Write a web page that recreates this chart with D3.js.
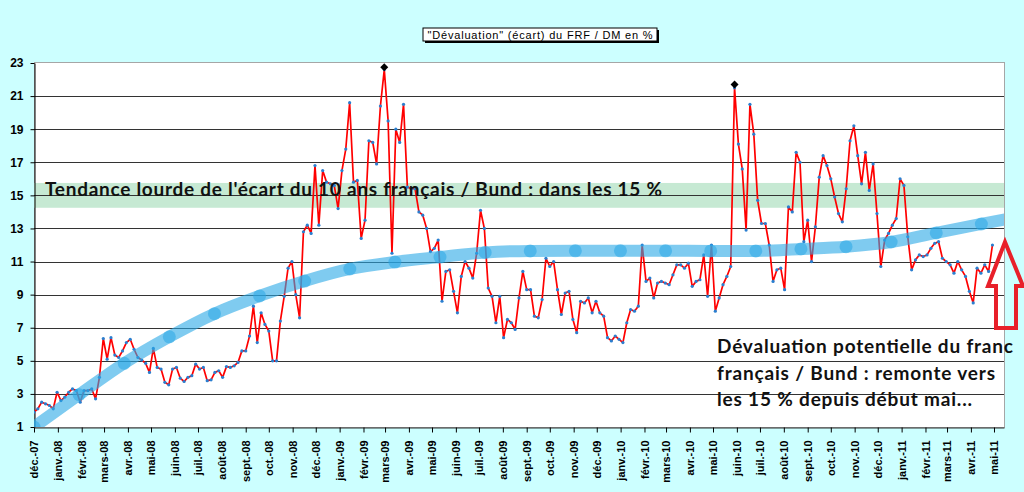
<!DOCTYPE html>
<html>
<head>
<meta charset="utf-8">
<script src="https://cdn.jsdelivr.net/npm/d3@7"></script>
<style>
  html, body { margin: 0; padding: 0; background: #ccffff; }
  svg { display: block; }
  .tick-label { font-family: "Liberation Sans", Arial, sans-serif; font-weight: bold; font-size: 11px; fill: #000; }
  .note { font-family: Lato, "Open Sans", sans-serif; font-weight: bold; font-size: 19px; fill: #111; }
</style>
</head>
<body>
<svg id="chart" width="1024" height="492"></svg>
<script>
// --- data ---
var seriesStart = "2007-12-01";   // one value every 5 days from here
var seriesStepDays = 5;
var seriesValues = [
  1.9, 2.1, 2.5, 2.4, 2.3, 2.1, 3.1, 2.6, 2.8, 3.1,
  3.3, 3.2, 2.5, 3.2, 3.2, 3.3, 2.7, 4.0, 6.35, 5.1,
  6.4, 5.35, 5.2, 5.6, 6.1, 6.3, 5.7, 5.2, 5.05, 4.85,
  4.3, 5.75, 4.6, 4.5, 3.7, 3.55, 4.5, 4.6, 3.95, 3.75,
  4.0, 4.1, 4.8, 4.5, 4.6, 3.8, 3.85, 4.3, 4.4, 4.0,
  4.65, 4.6, 4.7, 4.9, 5.6, 5.6, 6.5, 8.3, 6.1, 7.9,
  7.2, 6.8, 5.0, 5.0, 7.4, 8.9, 10.6, 11.0, 9.0, 7.6,
  12.8, 13.2, 12.7, 16.8, 13.2, 16.5, 15.8, 15.7, 15.6, 14.2,
  16.5, 17.8, 20.6, 15.8, 15.9, 12.4, 13.5, 18.3, 18.2, 16.9,
  20.4, 22.6, 19.5, 11.5, 19.0, 18.2, 20.5, 15.5, 15.4, 15.4,
  14.0, 13.8, 13.0, 11.6, 11.8, 12.3, 8.6, 10.4, 10.5, 9.2,
  7.9, 10.1, 11.0, 10.6, 10.0, 11.5, 14.1, 13.0, 9.4, 8.9,
  7.3, 8.9, 6.4, 7.5, 7.3, 6.9, 8.8, 10.4, 9.3, 9.3,
  7.7, 7.6, 8.7, 11.2, 10.7, 11.0, 9.3, 7.8, 9.1, 9.2,
  7.5, 6.7, 8.6, 8.5, 8.8, 7.9, 8.6, 7.9, 7.7, 6.4,
  6.2, 6.5, 6.3, 6.1, 7.3, 8.1, 8.0, 8.3, 12.0, 9.8,
  10.0, 8.8, 9.7, 9.8, 9.7, 9.6, 10.2, 10.8, 10.8, 10.6,
  10.9, 9.5, 9.8, 9.9, 11.4, 8.9, 12.0, 8.0, 8.8, 9.6,
  10.1, 10.7, 21.5, 18.1, 16.6, 12.9, 20.5, 18.7, 14.7, 13.3,
  13.3, 12.0, 9.8, 10.5, 10.6, 9.3, 14.3, 14.0, 17.6, 17.0,
  12.2, 13.5, 11.0, 13.1, 16.1, 17.4, 16.8, 16.0, 14.9, 13.9,
  13.4, 15.4, 18.3, 19.2, 17.4, 15.7, 17.6, 15.3, 16.9, 13.9,
  10.7, 12.3, 12.7, 13.2, 13.6, 16.0, 15.6, 12.5, 10.5, 11.1,
  11.4, 11.3, 11.4, 11.8, 12.1, 12.2, 11.2, 11.0, 10.8, 10.3,
  11.0, 10.5, 10.1, 9.2, 8.5, 10.6, 10.3, 10.8, 10.4, 12.0
];

var trendStepDays = 58.6;         // trend markers, same start date
var trendValues = [1.0, 2.95, 4.85, 6.45, 7.85, 8.92, 9.82, 10.55, 10.97, 11.27, 11.55,
  11.64, 11.65, 11.65, 11.65, 11.64, 11.64, 11.76, 11.9, 12.18, 12.73, 13.27, 13.8];

var peakDates = ["2009-02-28", "2010-05-29"];
var peakValues = [22.75, 21.7];

var bandLow = 14.25, bandHigh = 15.75;

var yTicks = [1, 3, 5, 7, 9, 11, 13, 15, 17, 19, 21, 23];
var xTickLabels = ["déc.-07", "janv.-08", "févr.-08", "mars-08", "avr.-08", "mai-08", "juin-08",
  "juil.-08", "août-08", "sept.-08", "oct.-08", "nov.-08", "déc.-08", "janv.-09", "févr.-09",
  "mars-09", "avr.-09", "mai-09", "juin-09", "juil.-09", "août-09", "sept.-09", "oct.-09",
  "nov.-09", "déc.-09", "janv.-10", "févr.-10", "mars-10", "avr.-10", "mai-10", "juin-10",
  "juil.-10", "août-10", "sept.-10", "oct.-10", "nov.-10", "déc.-10", "janv.-11", "févr.-11",
  "mars-11", "avr.-11", "mai-11"];

var title = "\"Dévaluation\" (écart) du FRF / DM en %";
var note1 = "Tendance lourde de l'écart du 10 ans français / Bund : dans les 15 %";
var note2 = ["Dévaluation potentielle du franc", "français / Bund : remonte vers", "les 15 % depuis début mai..."];

// --- layout ---
var plotL = 34, plotR = 1004, plotT = 63, plotB = 427;
var parse = d3.timeParse("%Y-%m-%d");
var start = parse(seriesStart);

var series = seriesValues.map(function(v, i) {
  return { date: d3.timeDay.offset(start, i * seriesStepDays), value: v };
});
var trend = trendValues.map(function(v, i) {
  return { date: d3.timeHour.offset(start, Math.round(i * trendStepDays * 24)), value: v };
});
var peaks = peakDates.map(function(d, i) { return { date: parse(d), value: peakValues[i] }; });

var x = d3.scaleTime()
    .domain([start, parse("2011-05-14")])
    .range([plotL, plotR]);
var y = d3.scaleLinear()
    .domain([1, 23])
    .range([plotB, plotT]);

var svg = d3.select("#chart");

svg.append("rect").attr("width", 1024).attr("height", 492).attr("fill", "#ccffff");

svg.append("defs").append("clipPath").attr("id", "plotclip")
  .append("rect").attr("x", plotL).attr("y", plotT).attr("width", plotR - plotL).attr("height", plotB - plotT);

svg.append("rect")
    .attr("x", plotL + 0.5).attr("y", plotT - 0.5)
    .attr("width", plotR - plotL).attr("height", plotB - plotT + 1)
    .attr("fill", "#fff").attr("stroke", "#a6a6a6");

// green band
svg.append("rect")
    .attr("x", plotL).attr("width", plotR - plotL)
    .attr("y", y(bandHigh)).attr("height", y(bandLow) - y(bandHigh))
    .attr("fill", "#c6e9d3");

// gridlines
svg.append("g").selectAll("line")
  .data(yTicks.filter(function(d) { return d > 1 && d < 23; }))
  .enter().append("line")
    .attr("x1", plotL).attr("x2", plotR)
    .attr("y1", function(d) { return Math.round(y(d)) + 0.5; })
    .attr("y2", function(d) { return Math.round(y(d)) + 0.5; })
    .attr("stroke", "#333").attr("stroke-width", 1.1);

// y axis
var yAxis = svg.append("g")
    .attr("transform", "translate(" + (plotL + 0.5) + ",0)")
    .call(d3.axisLeft(y).tickValues(yTicks).tickSize(4).tickSizeOuter(0).tickPadding(7));
yAxis.select(".domain").attr("stroke", "#000");
yAxis.selectAll(".tick line").attr("stroke", "#000");
yAxis.selectAll(".tick text").attr("class", "tick-label").style("font-size", "12px");

// x axis
var months = d3.timeMonth.range(start, parse("2011-05-02"));
var xAxis = svg.append("g")
    .attr("transform", "translate(0," + (plotB + 0.5) + ")")
    .call(d3.axisBottom(x).tickValues(months).tickSize(5).tickSizeOuter(0)
      .tickFormat(function(d, i) { return xTickLabels[i]; }));
xAxis.select(".domain").attr("stroke", "#333");
xAxis.selectAll(".tick line").attr("stroke", "#000");
xAxis.selectAll(".tick text")
    .attr("class", "tick-label")
    .attr("text-anchor", "end")
    .attr("transform", "translate(0,13) rotate(-90)")
    .attr("x", 0).attr("y", 0).attr("dy", "0.35em");

var plot = svg.append("g").attr("clip-path", "url(#plotclip)");

// main series
plot.append("path")
    .datum(series)
    .attr("fill", "none")
    .attr("stroke", "#ff0000")
    .attr("stroke-width", 1.7)
    .attr("stroke-linejoin", "round")
    .attr("d", d3.line().x(function(d) { return x(d.date); }).y(function(d) { return y(d.value); }));

plot.append("g").selectAll("circle")
  .data(series)
  .enter().append("circle")
    .attr("cx", function(d) { return x(d.date); })
    .attr("cy", function(d) { return y(d.value); })
    .attr("r", 1.6)
    .attr("fill", "#2a7fd0");

// trend
plot.append("path")
    .datum(trend)
    .attr("fill", "none")
    .attr("stroke", "#29a8e6")
    .attr("stroke-opacity", 0.6)
    .attr("stroke-width", 12)
    .attr("d", d3.line().curve(d3.curveMonotoneX)
      .x(function(d) { return x(d.date); }).y(function(d) { return y(d.value); }));

plot.append("g").selectAll("circle")
  .data(trend)
  .enter().append("circle")
    .attr("cx", function(d) { return x(d.date); })
    .attr("cy", function(d) { return y(d.value); })
    .attr("r", 6.5)
    .attr("fill", "#29a8e6")
    .attr("fill-opacity", 0.55);

// peak markers
svg.append("g").selectAll("path")
  .data(peaks)
  .enter().append("path")
    .attr("d", d3.symbol().type(d3.symbolSquare).size(32))
    .attr("transform", function(d) { return "translate(" + x(d.date) + "," + y(d.value) + ") rotate(45)"; })
    .attr("fill", "#000");

// notes
svg.append("text")
    .attr("class", "note")
    .attr("x", 45).attr("y", y(15) + 1)
    .attr("textLength", 617)
    .text(note1);

var noteWidths = [296, 278, 255];
svg.append("g").selectAll("text")
  .data(note2)
  .enter().append("text")
    .attr("class", "note")
    .attr("x", 717)
    .attr("y", function(d, i) { return 353 + i * 26.7; })
    .attr("textLength", function(d, i) { return noteWidths[i]; })
    .text(function(d) { return d; });

// title box
var tg = svg.append("g");
tg.append("rect").attr("x", 425).attr("y", 30).attr("width", 234).attr("height", 13).attr("fill", "#000");
tg.append("rect").attr("x", 423).attr("y", 28).attr("width", 234).attr("height", 13)
    .attr("fill", "#fff").attr("stroke", "#000").attr("stroke-width", 1);
tg.append("text")
    .attr("x", 540).attr("y", 38.5)
    .attr("text-anchor", "middle")
    .attr("textLength", 225)
    .style("font-family", "'Liberation Sans', Arial, sans-serif")
    .style("font-size", "11px")
    .text(title);

// red arrow pointing up at the right edge
var ax = plotR + 1, ay = 242;
var arrowPts = [[ax, ay], [ax + 18, ay + 44], [ax + 11, ay + 44], [ax + 11, ay + 86],
  [ax - 9, ay + 86], [ax - 9, ay + 44], [ax - 17, ay + 44]];
svg.append("polygon")
    .attr("points", arrowPts.map(function(p) { return p.join(","); }).join(" "))
    .attr("fill", "none")
    .attr("stroke", "#e8202a")
    .attr("stroke-width", 4)
    .attr("stroke-linejoin", "miter");
</script>
</body>
</html>
